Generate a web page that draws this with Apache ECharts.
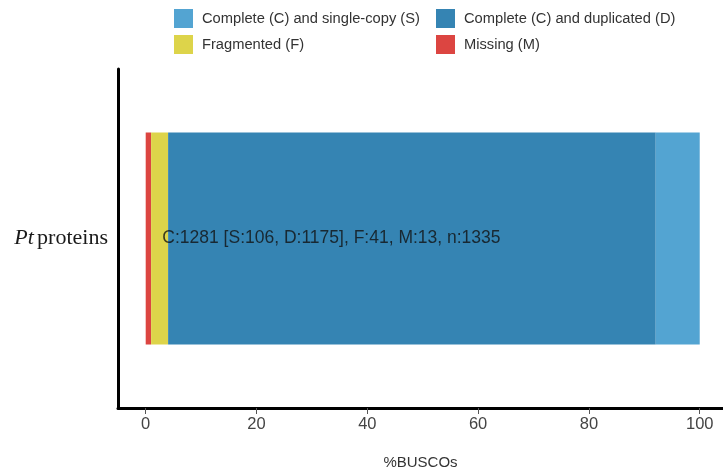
<!DOCTYPE html>
<html>
<head>
<meta charset="utf-8">
<script src="https://cdn.jsdelivr.net/npm/echarts@6/dist/echarts.min.js"></script>
<style>html,body{margin:0;padding:0;background:#fff}#c{width:723px;height:475px}</style>
</head>
<body>
<div id="c"></div>
<script>
const categories = ['Pt proteins'];
const seriesNames = ['Complete (C) and single-copy (S)', 'Complete (C) and duplicated (D)', 'Fragmented (F)', 'Missing (M)'];
const countS = [106];
const countD = [1175];
const countF = [41];
const countM = [13];
const totalN = [1335];
const tickValues = [0, 20, 40, 60, 80, 100];
const summaryText = ['C:1281 [S:106, D:1175], F:41, M:13, n:1335'];
const textX = [3];

const colors = {S: '#53A4D2', D: '#3584B3', F: '#DDD44A', M: '#DC4541'};
const pct = (arr) => arr.map((v, i) => v / totalN[i] * 100);
const SANS = 'Liberation Sans, Arial, sans-serif';

const chart = echarts.init(document.getElementById('c'));
function legendAt(name, left, top) {
  return {
    data: [name], left: left, top: top, padding: 0, orient: 'horizontal',
    itemWidth: 19, itemHeight: 19, icon: 'rect',
    textStyle: {fontSize: 14.7, color: '#333', fontFamily: SANS, padding: [0, 0, 0, 4]},
    selectedMode: false
  };
}
const barBase = {type: 'bar', stack: 'total', barWidth: 212, emphasis: {disabled: true}, silent: true};
chart.setOption({
  animation: false,
  legend: [
    legendAt(seriesNames[0], 174, 9),
    legendAt(seriesNames[1], 436, 9),
    legendAt(seriesNames[2], 174, 35),
    legendAt(seriesNames[3], 436, 35)
  ],
  grid: {left: 118, right: 0, top: 69, bottom: 66, containLabel: false},
  xAxis: {
    type: 'value', min: -5, max: 104.2,
    name: '%BUSCOs', nameLocation: 'middle', nameGap: 47,
    nameTextStyle: {fontSize: 15, color: '#333', fontFamily: SANS},
    axisLine: {show: true, onZero: false, lineStyle: {color: '#000', width: 3}},
    axisTick: {show: true, customValues: tickValues, length: 6, lineStyle: {color: '#555', width: 1}},
    axisLabel: {customValues: tickValues, fontSize: 16.5, color: '#444', margin: 8, fontFamily: SANS},
    splitLine: {show: false}
  },
  yAxis: {
    type: 'category', data: categories,
    axisLine: {show: true, onZero: false, lineStyle: {color: '#000', width: 3}},
    axisTick: {show: false},
    axisLabel: {
      margin: 10,
      formatter: function (v) { const p = v.split(' '); return '{i|' + p[0] + '} {r|' + p.slice(1).join(' ') + '}'; },
      rich: {
        i: {fontSize: 22, fontStyle: 'italic', fontFamily: 'Liberation Serif, Times New Roman, serif', color: '#1a1a1a'},
        r: {fontSize: 22, fontFamily: 'Liberation Serif, Times New Roman, serif', color: '#1a1a1a'}
      }
    },
    splitLine: {show: false}
  },
  series: [
    Object.assign({}, barBase, {name: seriesNames[3], data: pct(countM), itemStyle: {color: colors.M}}),
    Object.assign({}, barBase, {name: seriesNames[2], data: pct(countF), itemStyle: {color: colors.F}}),
    Object.assign({}, barBase, {name: seriesNames[1], data: pct(countD), itemStyle: {color: colors.D}}),
    Object.assign({}, barBase, {name: seriesNames[0], data: pct(countS), itemStyle: {color: colors.S}}),
    {
      type: 'scatter', z: 10, silent: true, symbolSize: 0,
      data: textX.map((x, i) => [x, categories[i]]),
      label: {
        show: true, position: 'right', distance: 0,
        formatter: (p) => summaryText[p.dataIndex],
        fontSize: 17.5, color: '#111', fontFamily: SANS
      }
    }
  ]
});
</script>
</body>
</html>
